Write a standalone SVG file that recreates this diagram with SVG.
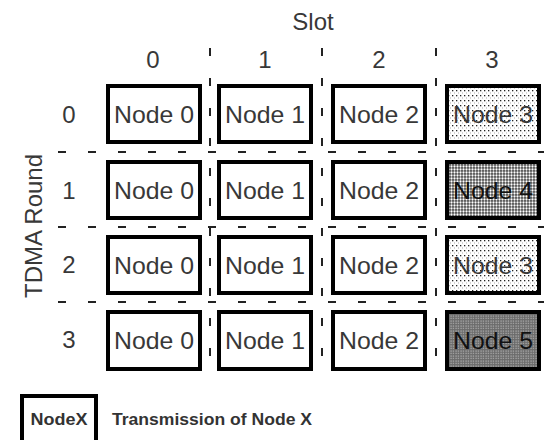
<svg xmlns="http://www.w3.org/2000/svg" width="544" height="440" viewBox="0 0 544 440">
<style>
text{font-family:"Liberation Sans",Arial,sans-serif;fill:#383838}
.big{font-size:24px;text-anchor:middle}
.node rect{stroke:#000;stroke-width:4}
.plain{fill:#fff}
.grid line{stroke:#222;stroke-width:2;stroke-dasharray:8 22}
.leg{font-size:17px;font-weight:bold;fill:#333}
</style>
<defs>
<pattern id="pLight" width="4" height="5" patternUnits="userSpaceOnUse">
<rect width="4" height="5" fill="#fff"/>
<rect x="0" y="0" width="1.3" height="1.3" fill="#222"/>
<rect x="2" y="2.5" width="1" height="1" fill="#aaa"/>
</pattern>
<pattern id="pMed" width="3" height="3" patternUnits="userSpaceOnUse">
<rect width="3" height="3" fill="#444"/>
<circle cx="1.5" cy="1.5" r="1.15" fill="#fff"/>
</pattern>
<pattern id="pDark" width="2.5" height="2.5" patternUnits="userSpaceOnUse">
<rect width="2.5" height="2.5" fill="#6a6a6a"/>
<rect x="0.5" y="0.5" width="1" height="1" fill="#ddd"/>
</pattern>
</defs>
<rect width="544" height="440" fill="#fff"/>

<g id="connectors" class="grid">
<line x1="210" y1="48" x2="210" y2="376"/>
<line x1="322" y1="48" x2="322" y2="376"/>
<line x1="436" y1="48" x2="436" y2="376"/>
<line x1="58" y1="152" x2="544" y2="152"/>
<line x1="58" y1="227" x2="544" y2="227"/>
<line x1="58" y1="302" x2="544" y2="302"/>
</g>

<g id="labels">
<text class="big" x="313" y="30" font-size="25">Slot</text>
<text class="big" x="153" y="68">0</text>
<text class="big" x="265" y="68">1</text>
<text class="big" x="379" y="68">2</text>
<text class="big" x="492" y="68">3</text>
<text class="big" x="69" y="123">0</text>
<text class="big" x="69" y="199">1</text>
<text class="big" x="69" y="273">2</text>
<text class="big" x="69" y="348">3</text>
<text class="big" transform="translate(42,226) rotate(-90)" font-size="26">TDMA Round</text>
</g>

<g id="r0c0" class="node"><rect class="plain" x="108" y="86" width="92" height="56"/><text class="big" x="154" y="123" textLength="80" lengthAdjust="spacingAndGlyphs">Node 0</text></g>
<g id="r0c1" class="node"><rect class="plain" x="219" y="86" width="92" height="56"/><text class="big" x="265" y="123" textLength="80" lengthAdjust="spacingAndGlyphs">Node 1</text></g>
<g id="r0c2" class="node"><rect class="plain" x="333" y="86" width="92" height="56"/><text class="big" x="379" y="123" textLength="80" lengthAdjust="spacingAndGlyphs">Node 2</text></g>
<g id="r0c3" class="node"><rect fill="url(#pLight)" x="447" y="86" width="92" height="56"/><text class="big" x="493" y="123" textLength="80" lengthAdjust="spacingAndGlyphs">Node 3</text></g>

<g id="r1c0" class="node"><rect class="plain" x="108" y="162" width="92" height="56"/><text class="big" x="154" y="199" textLength="80" lengthAdjust="spacingAndGlyphs">Node 0</text></g>
<g id="r1c1" class="node"><rect class="plain" x="219" y="162" width="92" height="56"/><text class="big" x="265" y="199" textLength="80" lengthAdjust="spacingAndGlyphs">Node 1</text></g>
<g id="r1c2" class="node"><rect class="plain" x="333" y="162" width="92" height="56"/><text class="big" x="379" y="199" textLength="80" lengthAdjust="spacingAndGlyphs">Node 2</text></g>
<g id="r1c3" class="node"><rect fill="url(#pMed)" x="447" y="162" width="92" height="56"/><text class="big" x="493" y="199" textLength="80" lengthAdjust="spacingAndGlyphs" style="fill:#111">Node 4</text></g>

<g id="r2c0" class="node"><rect class="plain" x="108" y="237" width="92" height="56"/><text class="big" x="154" y="274" textLength="80" lengthAdjust="spacingAndGlyphs">Node 0</text></g>
<g id="r2c1" class="node"><rect class="plain" x="219" y="237" width="92" height="56"/><text class="big" x="265" y="274" textLength="80" lengthAdjust="spacingAndGlyphs">Node 1</text></g>
<g id="r2c2" class="node"><rect class="plain" x="333" y="237" width="92" height="56"/><text class="big" x="379" y="274" textLength="80" lengthAdjust="spacingAndGlyphs">Node 2</text></g>
<g id="r2c3" class="node"><rect fill="url(#pLight)" x="447" y="237" width="92" height="56"/><text class="big" x="493" y="274" textLength="80" lengthAdjust="spacingAndGlyphs">Node 3</text></g>

<g id="r3c0" class="node"><rect class="plain" x="108" y="312" width="92" height="57"/><text class="big" x="154" y="349" textLength="80" lengthAdjust="spacingAndGlyphs">Node 0</text></g>
<g id="r3c1" class="node"><rect class="plain" x="219" y="312" width="92" height="57"/><text class="big" x="265" y="349" textLength="80" lengthAdjust="spacingAndGlyphs">Node 1</text></g>
<g id="r3c2" class="node"><rect class="plain" x="333" y="312" width="92" height="57"/><text class="big" x="379" y="349" textLength="80" lengthAdjust="spacingAndGlyphs">Node 2</text></g>
<g id="r3c3" class="node"><rect fill="url(#pDark)" x="447" y="312" width="92" height="57"/><text class="big" x="493" y="349" textLength="80" lengthAdjust="spacingAndGlyphs" style="fill:#111">Node 5</text></g>

<g id="legend" class="node">
<rect class="plain" x="22" y="396" width="74" height="52"/>
<text class="leg" x="59" y="425" text-anchor="middle" textLength="57" lengthAdjust="spacingAndGlyphs">NodeX</text>
<text class="leg" x="112" y="425" textLength="200" lengthAdjust="spacingAndGlyphs">Transmission of Node X</text>
</g>
</svg>
